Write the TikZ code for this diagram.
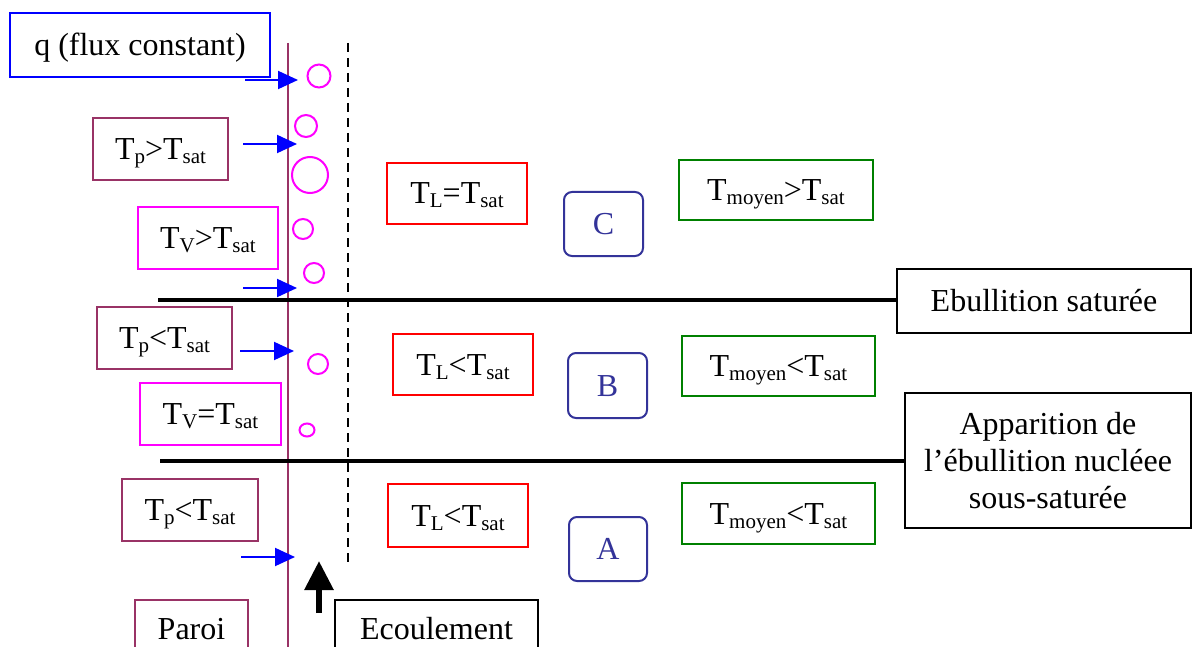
\documentclass[tikz,border=0pt]{standalone}
\usepackage{fontspec}
\setmainfont{Liberation Serif}
\usetikzlibrary{arrows.meta}
\definecolor{wallc}{HTML}{993366}
\definecolor{magc}{HTML}{FF00FF}
\definecolor{bluec}{HTML}{0000FF}
\definecolor{redc}{HTML}{FF0000}
\definecolor{greenc}{HTML}{008000}
\definecolor{navyc}{HTML}{333399}
\newcommand\sbs[1]{\raisebox{-4pt}{\fontsize{21}{21}\selectfont #1}}
\begin{document}
\begin{tikzpicture}[x=1pt,y=-1pt,
  every node/.style={font=\fontsize{32}{37}\selectfont, inner sep=0pt},
  box/.style={draw, line width=2pt, text height=21pt, text depth=0pt},
  wallbox/.style={box, draw=wallc},
  vapbox/.style={box, draw=magc},
  liqbox/.style={box, draw=redc},
  moybox/.style={box, draw=greenc},
  zonebox/.style={box, draw=navyc, rounded corners=8pt, text=navyc},
  blkbox/.style={draw=black, line width=2pt},
  bubble/.style={draw=magc, line width=2pt},
  heat/.style={draw=bluec, line width=2pt, -{Triangle[length=20pt,width=18pt]}, bluec},
  limit/.style={draw=black, line width=3.5pt}
]
\clip (0,0) rectangle (1193,647);

% wall and boundary layer
\coordinate (wtop) at (288,43);
\coordinate (wbot) at (288,660);
\draw[wallc, line width=2.5pt] (wtop) -- (wbot);
\coordinate (dtop) at (348,43);
\coordinate (dbot) at (348,565);
\draw[line width=2pt, dash pattern=on 9pt off 6pt] (dtop) -- (dbot);

% left boxes
\node[box, draw=bluec, minimum width=260pt, minimum height=64pt] (q) at (140,45) {q (flux constant)};
\node[wallbox, minimum width=135pt, minimum height=62pt] (tp1) at (160.5,149) {T\sbs{p}>T\sbs{sat}};
\node[vapbox, minimum width=140pt, minimum height=62pt] (tv1) at (208,238) {T\sbs{V}>T\sbs{sat}};
\node[wallbox, minimum width=135pt, minimum height=62pt] (tp2) at (164.5,338) {T\sbs{p}<T\sbs{sat}};
\node[vapbox, minimum width=141pt, minimum height=62pt] (tv2) at (210.5,414) {T\sbs{V}=T\sbs{sat}};
\node[wallbox, minimum width=136pt, minimum height=62pt] (tp3) at (190,510) {T\sbs{p}<T\sbs{sat}};
\node[wallbox, minimum width=113pt, minimum height=58pt] (paroi) at (191.5,629) {Paroi};
\node[box, minimum width=203pt, minimum height=58pt] (ecoul) at (436.5,629) {Ecoulement};

% middle boxes
\node[liqbox, minimum width=140pt, minimum height=61pt] (tl1) at (457,193.5) {T\sbs{L}=T\sbs{sat}};
\node[zonebox, minimum width=79pt, minimum height=64pt] (zc) at (603.5,224) {C};
\node[moybox, minimum width=194pt, minimum height=60pt] (tm1) at (776,190) {T\sbs{moyen}>T\sbs{sat}};
\node[liqbox, minimum width=140pt, minimum height=61pt] (tl2) at (463,364.5) {T\sbs{L}<T\sbs{sat}};
\node[zonebox, minimum width=79pt, minimum height=65pt] (zb) at (607.5,385.5) {B};
\node[moybox, minimum width=193pt, minimum height=60pt] (tm2) at (778.5,366) {T\sbs{moyen}<T\sbs{sat}};
\node[liqbox, minimum width=140pt, minimum height=63pt] (tl3) at (458,515.5) {T\sbs{L}<T\sbs{sat}};
\node[zonebox, minimum width=78pt, minimum height=64pt] (za) at (608,549) {A};
\node[moybox, minimum width=193pt, minimum height=61pt] (tm3) at (778.5,513.5) {T\sbs{moyen}<T\sbs{sat}};

% right boxes
\node[box, minimum width=294pt, minimum height=64pt] (ebul) at (1044,301) {Ebullition saturée};
\node[draw, line width=2pt, minimum width=286pt, minimum height=135pt, align=center] (appar) at (1048,460.5) {Apparition de\\l’ébullition nucléee\\sous-saturée};

% limit lines
\coordinate (l1) at (158,300);
\coordinate (l2) at (160,461);
\draw[limit] (l1) -- (ebul.west |- l1);
\draw[limit] (l2) -- (appar.west |- l2);

% heat flux arrows
\coordinate (h1s) at (245,80);  \coordinate (h1e) at (298,80);
\coordinate (h2s) at (243,144); \coordinate (h2e) at (297,144);
\coordinate (h3s) at (243,288); \coordinate (h3e) at (297,288);
\coordinate (h4s) at (240,351); \coordinate (h4e) at (294,351);
\coordinate (h5s) at (241,557); \coordinate (h5e) at (295,557);
\draw[heat] (h1s) -- (h1e);
\draw[heat] (h2s) -- (h2e);
\draw[heat] (h3s) -- (h3e);
\draw[heat] (h4s) -- (h4e);
\draw[heat] (h5s) -- (h5e);

% flow arrow
\coordinate (fs) at (319,613);
\coordinate (fe) at (319,561);
\draw[line width=6pt, -{Triangle[length=29pt,width=28pt]}] (fs) -- (fe);

% bubbles
\draw[bubble] (319,76) circle (11.5);
\draw[bubble] (306,126) circle (11);
\draw[bubble] (310,175) circle (18);
\draw[bubble] (303,229) circle (10);
\draw[bubble] (314,273) circle (10);
\draw[bubble] (318,364) circle (10);
\draw[bubble] (307,430) ellipse (7.5 and 6.5);
\end{tikzpicture}
\end{document}
